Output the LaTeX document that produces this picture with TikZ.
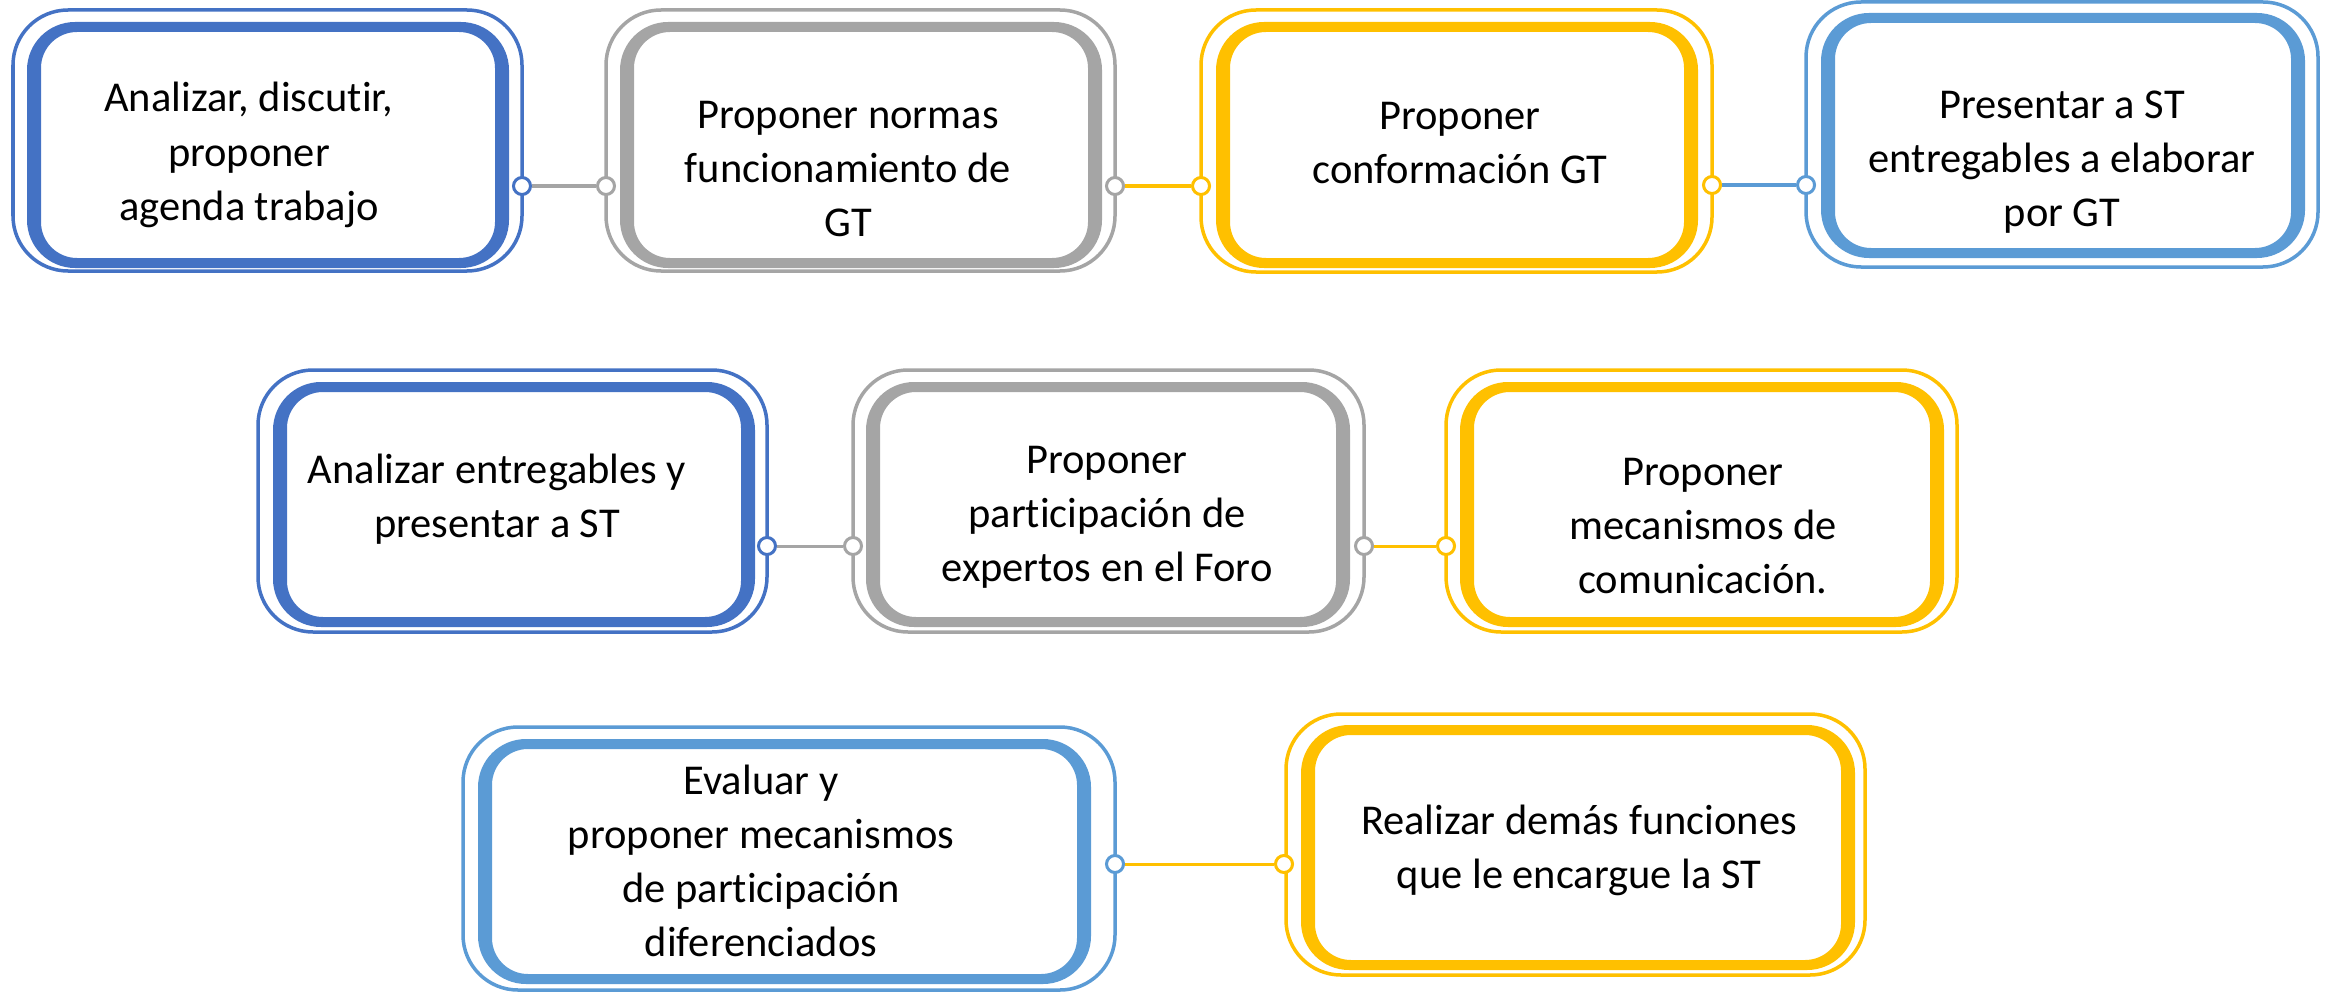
\documentclass[tikz,border=0pt]{standalone}
\usepackage{fontspec}
\setmainfont[Ligatures=NoCommon]{Carlito}
\definecolor{dblue}{HTML}{4472C4}
\definecolor{lblue}{HTML}{5B9BD5}
\definecolor{gry}{HTML}{A5A5A5}
\definecolor{gold}{HTML}{FFC000}
\tikzset{
  outerline/.style={draw=#1, line width=0.035cm, rounded corners=0.55cm},
  txt/.style={align=center, inner sep=0pt, font=\fontsize{12.08pt}{15.4pt}\selectfont},
  dot/.style={circle, draw=#1, fill=white, line width=0.03cm, minimum size=0.17cm, inner sep=0pt},
  conn/.style={draw=#1, line width=0.03cm},
}
% thin outer frame: colour, x1, y1, x2, y2 (line centre)
\newcommand{\outerframe}[5]{%
  \draw[outerline=#1] (#2,#3) rectangle (#4,#5);}
% thick inner frame: colour, x1, y1, x2, y2 (line centre); sides 14, top/bottom 10
\newcommand{\innerframe}[5]{%
  \fill[#1, even odd rule] [rounded corners=0.48cm] ({#2-7},{#3-5}) rectangle ({#4+7},{#5+5})
    [rounded corners=0.36cm] ({#2+7},{#3+5}) rectangle ({#4-7},{#5-5});}
\begin{document}
\begin{tikzpicture}[x=0.01cm,y=-0.01cm]
\useasboundingbox (0,0) rectangle (2331,991);
% row 1
\outerframe{dblue}{13}{10}{522}{271}
\innerframe{dblue}{34}{27}{502}{263}
\node[txt] (b1) at (249,155) {Analizar, discutir,\\proponer\\agenda trabajo};
\outerframe{gry}{606}{10}{1115}{271}
\innerframe{gry}{627}{27}{1095}{263}
\node[txt] (b2) at (848,169) {Proponer normas\\funcionamiento de\\GT};
\outerframe{gold}{1201}{10}{1712}{272}
\innerframe{gold}{1223}{27}{1691}{263}
\node[txt] (b3) at (1460,143) {Proponer\\conformación GT};
\outerframe{lblue}{1806}{2}{2318}{267}
\innerframe{lblue}{1828}{18}{2298}{253}
\node[txt] (b4) at (2062,162) {Presentar a ST\\entregables a elaborar\\por GT};
% row 2
\outerframe{dblue}{258}{370}{767}{632}
\innerframe{dblue}{280}{387}{748}{622}
\node[txt] (b5) at (497,499) {Analizar entregables y\\presentar a ST};
\outerframe{gry}{853}{370}{1364}{632}
\innerframe{gry}{873}{387}{1343}{622}
\node[txt] (b6) at (1107,517) {Proponer\\participación de\\expertos en el Foro};
\outerframe{gold}{1446}{370}{1957}{632}
\innerframe{gold}{1467}{387}{1937}{622}
\node[txt] (b7) at (1703,526) {Proponer\\mecanismos de\\comunicación.};
% row 3
\outerframe{lblue}{463}{727}{1115}{990}
\innerframe{lblue}{485}{744}{1084}{979}
\node[txt] (b8) at (761,861) {Evaluar y\\proponer mecanismos\\de participación\\diferenciados};
\outerframe{gold}{1286}{714}{1865}{975}
\innerframe{gold}{1308}{730}{1848}{965}
\node[txt] (b9) at (1579,850) {Realizar demás funciones\\que le encargue la ST};
% dots
\node[dot=dblue] (d1r) at (522,186) {};
\node[dot=gry] (d2l) at (606,186) {};
\node[dot=gry] (d2r) at (1115,186) {};
\node[dot=gold] (d3l) at (1201,186) {};
\node[dot=gold] (d3r) at (1712,185) {};
\node[dot=lblue] (d4l) at (1806,185) {};
\node[dot=dblue] (d5r) at (767,546) {};
\node[dot=gry] (d6l) at (853,546) {};
\node[dot=gry] (d6r) at (1364,546) {};
\node[dot=gold] (d7l) at (1446,546) {};
\node[dot=lblue] (d8r) at (1115,864) {};
\node[dot=gold] (d9l) at (1284,864) {};
% connectors
\draw[conn=gry] (d1r) -- (d2l);
\draw[conn=gold] (d2r) -- (d3l);
\draw[conn=lblue] (d3r) -- (d4l);
\draw[conn=gry] (d5r) -- (d6l);
\draw[conn=gold] (d6r) -- (d7l);
\draw[conn=gold] (d8r) -- (d9l);
\end{tikzpicture}
\end{document}
